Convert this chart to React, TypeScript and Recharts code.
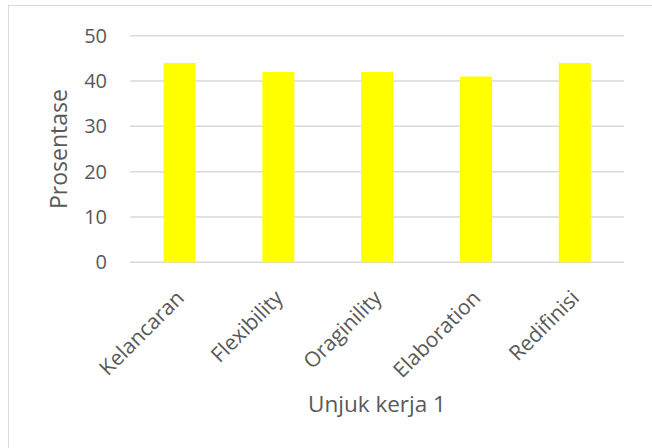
import { Bar, BarChart, CartesianGrid, XAxis, YAxis } from "recharts";

const categories = ["Kelancaran", "Flexibility", "Oraginility", "Elaboration", "Redifinisi"];
const prosentase = [44, 42, 42, 41, 44];
const yTicks = [0, 10, 20, 30, 40, 50];

const FONT = "'Open Sans', 'Noto Sans', sans-serif";
const TEXT_COLOR = "#595959";
const GRID_COLOR = "#D9D9D9";

const rows = categories.map((name, i) => ({ name, value: prosentase[i] }));

function CategoryTick(props: any) {
  const { x, y, payload } = props;
  const tx = x + 6;
  const ty = y + 37;
  return (
    <text
      x={tx}
      y={ty}
      transform={`rotate(-45, ${tx}, ${ty})`}
      textAnchor="end"
      fill={TEXT_COLOR}
      fontSize={21}
      fontFamily={FONT}
    >
      {payload.value}
    </text>
  );
}

function ValueTick(props: any) {
  const { x, y, payload } = props;
  return (
    <text
      x={x}
      y={y}
      dy="0.355em"
      textAnchor="end"
      fill={TEXT_COLOR}
      fontSize={20}
      fontFamily={FONT}
    >
      {payload.value}
    </text>
  );
}

// axis titles drawn as plain svg text
function XTitle() {
  return (
    <text x={377} y={412} textAnchor="middle" fill={TEXT_COLOR} fontSize={22.5} fontFamily={FONT}>
      Unjuk kerja 1
    </text>
  );
}

function YTitle(props: any) {
  const { viewBox } = props;
  const cy = viewBox.y + viewBox.height / 2;
  const bx = 66.5;
  return (
    <text
      x={bx}
      y={cy}
      transform={`rotate(-90, ${bx}, ${cy})`}
      textAnchor="middle"
      fill={TEXT_COLOR}
      fontSize={23}
      fontFamily={FONT}
    >
      Prosentase
    </text>
  );
}

export default function App() {
  return (
    <div
      style={{
        position: "absolute",
        left: 0,
        top: 0,
        width: 652,
        height: 448,
        overflow: "hidden",
        background: "#fff",
      }}
    >
      <div
        style={{
          position: "absolute",
          left: 8,
          top: 5,
          width: 720,
          height: 520,
          border: `1.5px solid ${GRID_COLOR}`,
        }}
      />
      <div style={{ position: "absolute", left: 0, top: 0 }}>
        <BarChart
          width={652}
          height={448}
          data={rows}
          margin={{ top: 35.7, right: 28, bottom: 35.7, left: 0 }}
          barCategoryGap="34%"
        >
          <CartesianGrid stroke={GRID_COLOR} strokeWidth={1.5} vertical={false} />
          <XAxis
            dataKey="name"
            height={150}
            interval={0}
            axisLine={false}
            tickLine={false}
            tickSize={0}
            tickMargin={0}
            tick={<CategoryTick />}
            label={<XTitle />}
          />
          <YAxis
            width={130}
            domain={[0, 50]}
            ticks={yTicks}
            axisLine={false}
            tickLine={false}
            tickSize={0}
            tickMargin={23}
            tick={<ValueTick />}
            label={<YTitle />}
          />
          <Bar dataKey="value" fill="#FFFF00" isAnimationActive={false} />
        </BarChart>
      </div>
    </div>
  );
}
